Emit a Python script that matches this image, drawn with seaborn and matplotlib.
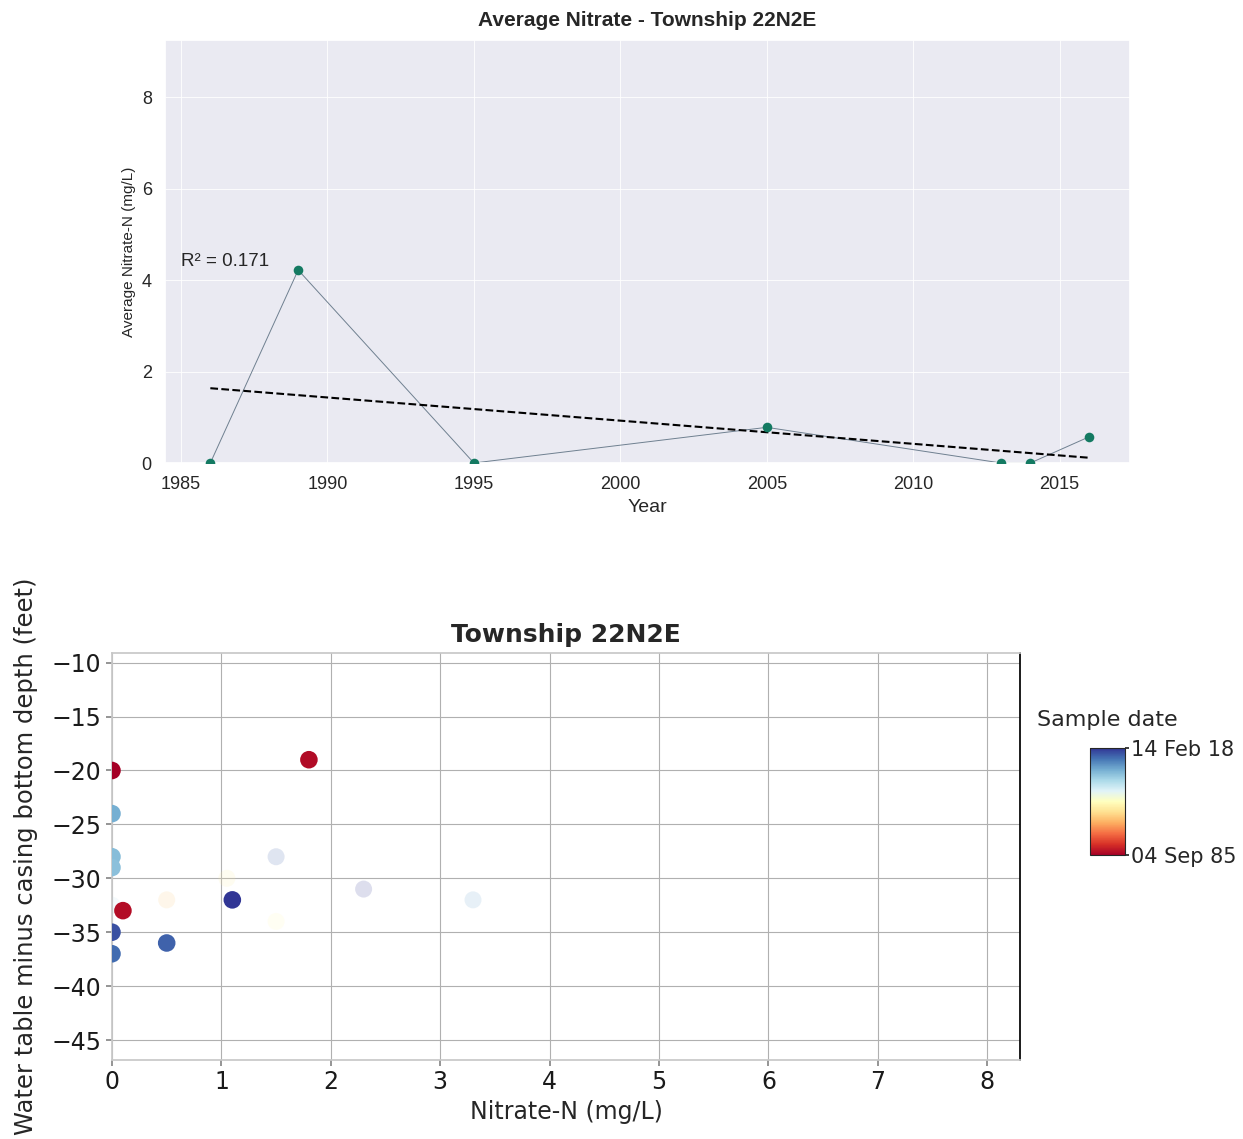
import numpy as np
import pandas as pd
import matplotlib
matplotlib.use("Agg")
import matplotlib.pyplot as plt
import matplotlib.dates as mdates
import seaborn as sns

# %% Data
# yearly average nitrate (top panel)
years = [1986, 1989, 1995, 2005, 2013, 2014, 2016]
avg_nitrate = [0.0, 4.22, 0.0, 0.78, 0.0, 0.0, 0.57]
r2_text = "R² = 0.171"

# individual samples (bottom panel)
nitrate = [0.0, 1.8, 0.1, 0.0, 0.0, 0.0, 0.0, 0.0, 0.5, 1.1]
depth = [-20, -19, -33, -24, -28, -29, -35, -37, -36, -32]
sample_date = ["1985-09-04", "1986-06-10", "1986-08-20", "2011-06-15", "2010-07-01",
               "2010-03-01", "2016-09-01", "2015-05-01", "2015-11-01", "2018-02-14"]

# faded samples
faint_nitrate = [0.0, 0.5, 1.05, 1.5, 1.5, 2.3, 3.3]
faint_depth = [-32.5, -32, -30, -28, -34, -31, -32]
faint_date = ["2007-01-01", "1997-06-01", "2000-01-01", "2016-01-01",
              "2001-06-01", "2018-01-01", "2012-01-01"]

# %% Figure
fig = plt.figure(figsize=(12.43, 11.39), dpi=100)

# --- top panel
sns.set_theme(style="darkgrid", rc={"grid.linewidth": 0.6})
plt.rcParams['font.family'] = ['Liberation Sans', 'DejaVu Sans']
ax1 = fig.add_axes([0.1327, 0.5935, 0.7763, 0.3714])
df_avg = pd.DataFrame({"year": years, "nitrate": avg_nitrate})
sns.lineplot(data=df_avg, x="year", y="nitrate", color="#6f8090", linewidth=0.7, ax=ax1)
sns.scatterplot(data=df_avg, x="year", y="nitrate", color="#147a62", s=48,
                linewidth=0, zorder=3, ax=ax1)
coef = np.polyfit(years, avg_nitrate, 1)
x_fit = np.array([min(years), max(years)])
ax1.plot(x_fit, np.polyval(coef, x_fit), linestyle="--", color="black", linewidth=1.5)
ax1.text(1985, 4.3, r2_text, fontsize=13.5, color="#262626")
ax1.set_xlim(1984.45, 2017.4)
ax1.set_ylim(0, 9.25)
ax1.set_xticks(range(1985, 2016, 5))
ax1.set_yticks([0, 2, 4, 6, 8])
ax1.tick_params(labelsize=13, colors="#262626")
ax1.set_xlabel("Year", fontsize=14)
ax1.set_ylabel("Average Nitrate-N (mg/L)", fontsize=11)
ax1.set_title("Average Nitrate - Township 22N2E", fontsize=15, fontweight="bold", pad=10)

# --- bottom panel
sns.set_style("white")
plt.rcParams['font.family'] = ['DejaVu Sans']
ax2 = fig.add_axes([0.0901, 0.0694, 0.7305, 0.3573])
dates_num = mdates.date2num(pd.to_datetime(sample_date))
faint_num = mdates.date2num(pd.to_datetime(faint_date))
dmin, dmax = dates_num.min(), dates_num.max()
df_s = pd.DataFrame({"nitrate": nitrate, "depth": depth, "date": dates_num})
df_f = pd.DataFrame({"nitrate": faint_nitrate, "depth": faint_depth, "date": faint_num})

sns.scatterplot(data=df_f, x="nitrate", y="depth", hue="date", palette="RdYlBu",
                hue_norm=(dmin, dmax), s=150, alpha=0.16, linewidth=0,
                legend=False, ax=ax2)
sns.scatterplot(data=df_s, x="nitrate", y="depth", hue="date", palette="RdYlBu",
                hue_norm=(dmin, dmax), s=160, linewidth=0, legend=False,
                zorder=3, ax=ax2)
ax2.set_xlim(0, 8.3)
ax2.set_ylim(-46.85, -9.1)
ax2.set_xticks(range(0, 9))
ax2.set_yticks(range(-45, -9, 5))
ax2.grid(True, color="#b0b0b0", linewidth=0.8)
ax2.set_axisbelow(True)
for side in ["left", "top", "bottom"]:
    ax2.spines[side].set_color("#c8c8c8")
ax2.spines["right"].set_color("black")
ax2.tick_params(axis="both", labelsize=17, length=4, left=True, bottom=True,
                color="#888888", colors="#1a1a1a")
ax2.set_xlabel("Nitrate-N (mg/L)", fontsize=17)
ax2.set_ylabel("Water table minus casing bottom depth (feet)", fontsize=17.5, labelpad=10)
ax2.set_title("Township 22N2E", fontsize=18, fontweight="bold", pad=8)

# colorbar for sample date
cax = fig.add_axes([0.8769, 0.2493, 0.0282, 0.0939])
sm = plt.cm.ScalarMappable(cmap="RdYlBu", norm=plt.Normalize(dmin, dmax))
cb = fig.colorbar(sm, cax=cax, ticks=[dmin, dmax])
cb.ax.set_yticklabels([mdates.num2date(d).strftime("%d %b %y") for d in [dmin, dmax]])
cb.ax.tick_params(labelsize=15, length=3, pad=1)
cb.outline.set_linewidth(0.8)
cb.ax.set_title("Sample date", fontsize=16, pad=16)

fig.savefig("out.png", dpi=100)
